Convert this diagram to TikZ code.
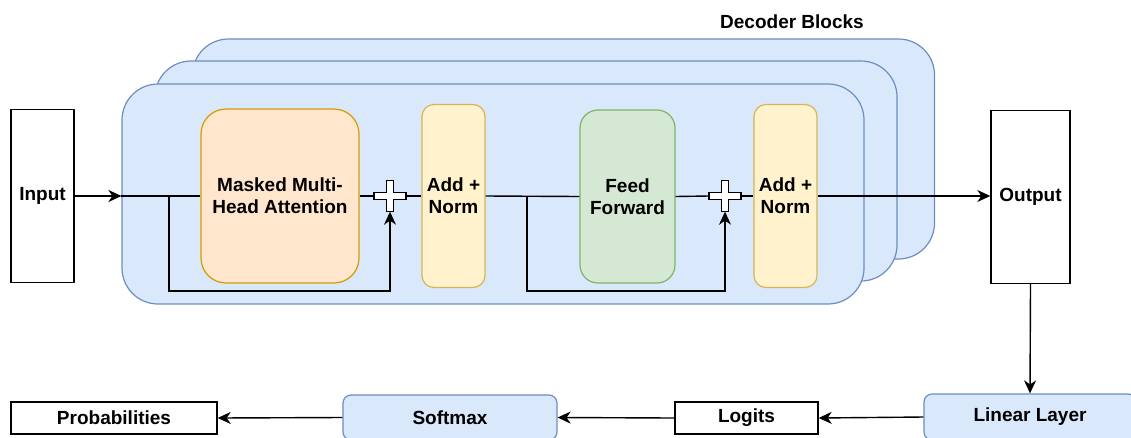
\documentclass[tikz,border=0pt]{standalone}
\usepackage{fontspec}
\setmainfont{Liberation Sans}
\usetikzlibrary{arrows.meta,calc}

\definecolor{blueFill}{HTML}{DAE8FC}
\definecolor{blueLine}{HTML}{6C8EBF}
\definecolor{orangeFill}{HTML}{FFE6CC}
\definecolor{orangeLine}{HTML}{D79B00}
\definecolor{yellowFill}{HTML}{FFF2CC}
\definecolor{yellowLine}{HTML}{D6B656}
\definecolor{greenFill}{HTML}{D5E8D4}
\definecolor{greenLine}{HTML}{82B366}

% the plus sign drawn round a residual node
\newcommand{\plussign}[1]{%
	\draw[fill=white,line width=1.4pt] ([shift={(-16,-3.5)}]#1.center) -- ++(12.5,0) -- ++(0,-12) -- ++(7,0) -- ++(0,12) -- ++(12.5,0) -- ++(0,7) -- ++(-12.5,0) -- ++(0,12) -- ++(-7,0) -- ++(0,-12) -- ++(-12.5,0) -- cycle;}

\begin{document}
\begin{tikzpicture}[x=1pt,y=-1pt,
		font=\fontsize{19}{22}\selectfont\bfseries,
		box/.style={draw=black,line width=1.4pt,fill=white,align=center},
		block/.style={draw=blueLine,fill=blueFill,line width=1.2pt,rounded corners=36pt,minimum width=742pt,minimum height=220pt},
		sublayer/.style={line width=1.2pt,rounded corners=#1,align=center},
		plusop/.style={inner sep=0pt,minimum width=32pt,minimum height=31pt},
		wire/.style={line width=1.4pt},
		arr/.style={wire,-{Stealth[length=13pt,width=12pt,inset=4pt]}}]
	\useasboundingbox (0,0) rectangle (1131,437);

	% stacked decoder blocks
	\node[block] (blockC) at (563.5,149) {};
	\node[block] (blockB) at (526,171) {};
	\node[block] (blockA) at (493,194) {};
	\node (title) at (792,22) {Decoder Blocks};

	% main row
	\node[box,minimum width=63pt,minimum height=173pt] (input) at (42.5,196) {Input};
	\node[sublayer=25pt,draw=orangeLine,fill=orangeFill,minimum width=158pt,minimum height=174pt] (mha) at (280,196) {Masked Multi-\\Head Attention};
	\node[plusop] (plusA) at (390,196) {};
	\node[sublayer=12pt,draw=yellowLine,fill=yellowFill,minimum width=63pt,minimum height=183pt] (normA) at (453.5,196) {Add +\\Norm};
	\node[sublayer=18pt,draw=greenLine,fill=greenFill,minimum width=95pt,minimum height=173pt] (ffn) at (627.5,196.5) {Feed\\Forward};
	\node[plusop] (plusB) at (725,196) {};
	\node[sublayer=12pt,draw=yellowLine,fill=yellowFill,minimum width=63pt,minimum height=183pt] (normB) at (785.5,196) {Add +\\Norm};
	\node[box,minimum width=79pt,minimum height=173pt] (output) at (1030.5,197) {Output};

	% bottom row
	\node[sublayer=8pt,draw=blueLine,fill=blueFill,minimum width=212pt,minimum height=46pt] (linear) at (1030,417) {Linear Layer};
	\node[box,minimum width=143pt,minimum height=32pt] (logits) at (746.5,418) {Logits};
	\node[sublayer=8pt,draw=blueLine,fill=blueFill,minimum width=214pt,minimum height=45pt] (softmax) at (450,417.5) {Softmax};
	\node[box,minimum width=206pt,minimum height=32pt] (probs) at (114,418) {Probabilities};

	% connections inside the block
	\coordinate (skipA) at (169,196);
	\coordinate (skipB) at (527,196);
	\draw[arr] (input.east) -- (input.east -| blockA.west);
	\draw[wire] (input.east -| blockA.west) -- (mha.west);
	\draw[arr] (skipA) -- ++(0,95) -| (plusA.south);
	\draw[wire] (mha.east) -- (plusA.west);
	\draw[wire] (plusA.east) -- (normA.west);
	\draw[wire] (normA.east) -- (ffn.west);
	\draw[arr] (skipB) -- ++(0,95) -| (plusB.south);
	\draw[wire] (ffn.east) -- (plusB.west);
	\draw[wire] (plusB.east) -- (normB.west);
	\plussign{plusA}
	\plussign{plusB}
	\draw[arr] (normB.east) -- (normB.east -| output.west);

	% output head
	\draw[arr] (output.south) -- (linear.north);
	\draw[arr] (linear.west) -- (logits.east);
	\draw[arr] (logits.west) -- (softmax.east);
	\draw[arr] (softmax.west) -- (probs.east);
\end{tikzpicture}
\end{document}
